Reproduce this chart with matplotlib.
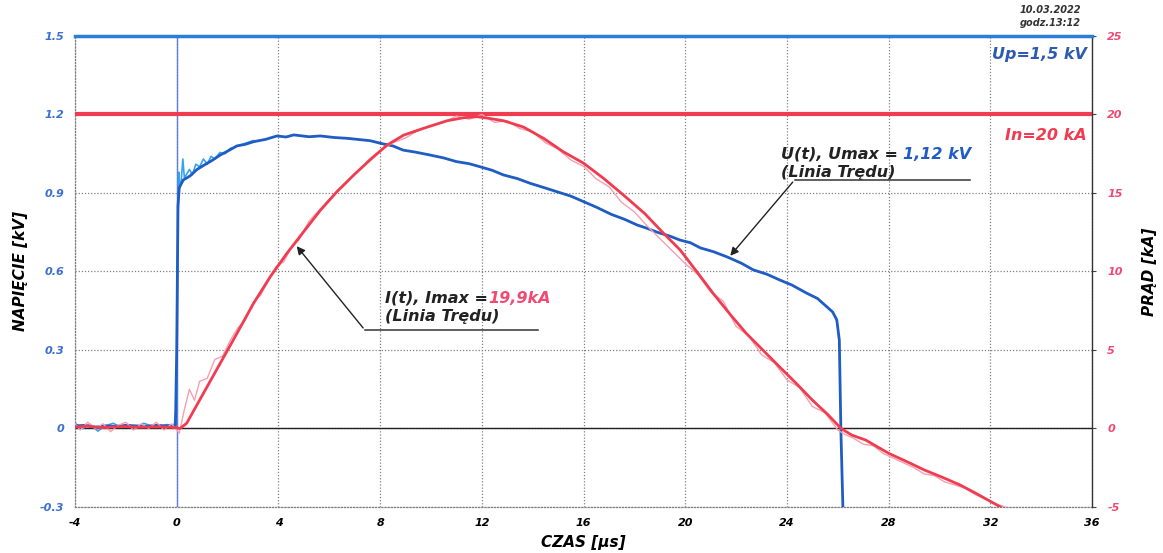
import numpy as np
import matplotlib
matplotlib.use('Agg')
import matplotlib.pyplot as plt

plt.rcParams['font.family'] = ['DejaVu Sans']

#------------------------------ dane ------------------------------
# napiecie U(t) [kV], slad glowny
t_u = [-4, -3.6, -3.2, -2.8, -2.4, -2.0, -1.6, -1.2, -0.8, -0.4, -0.05, 0.0, 0.05, 0.1,
       0.15, 0.26, 0.35, 0.52, 0.8, 1.05, 1.4, 1.71, 2.0, 2.37, 2.7, 3.02, 3.5, 3.94, 4.3,
       4.6, 5.2, 5.65, 6.2, 6.7, 7.2, 7.6, 8.1, 8.5, 8.9, 9.4, 9.97, 10.5, 11.0, 11.5,
       11.94, 12.4, 12.85, 13.4, 13.9, 14.4, 14.95, 15.5, 16.0, 16.5, 17.1, 17.6, 18.1,
       18.5, 18.9, 19.4, 19.8, 20.2, 20.6, 21.1, 21.64, 22.2, 22.68, 23.2, 23.73, 24.2,
       24.78, 25.2, 25.57, 25.8, 25.96, 26.06, 26.12, 26.2]
u = [0.01, 0.012, 0.005, 0.01, 0.008, 0.012, 0.01, 0.008, 0.012, 0.01, 0.01, 0.3, 0.85, 0.92,
     0.93, 0.95, 0.955, 0.965, 0.99, 1.005, 1.025, 1.045, 1.06, 1.08, 1.086, 1.096, 1.105,
     1.118, 1.114, 1.122, 1.115, 1.118, 1.112, 1.109, 1.104, 1.1, 1.088, 1.08, 1.064, 1.056,
     1.045, 1.034, 1.02, 1.012, 1.0, 0.987, 0.969, 0.955, 0.937, 0.922, 0.905, 0.888, 0.867,
     0.846, 0.818, 0.8, 0.778, 0.765, 0.75, 0.735, 0.72, 0.71, 0.69, 0.676, 0.656, 0.632,
     0.606, 0.59, 0.567, 0.548, 0.517, 0.497, 0.465, 0.445, 0.415, 0.338, 0.0, -0.3]

# napiecie - slad jasny (szum na poczatku)
t_c = [-4, -3.7, -3.4, -3.1, -2.8, -2.5, -2.2, -1.9, -1.6, -1.3, -1.0, -0.7, -0.4, -0.1,
       0.0, 0.04, 0.08, 0.12, 0.18, 0.24, 0.3, 0.38, 0.5, 0.62, 0.75, 0.9, 1.05, 1.2, 1.35,
       1.5, 1.7, 1.9, 2.1, 2.4, 2.7, 3.0]
c = [0.02, 0.0, 0.015, -0.01, 0.01, 0.02, 0.005, 0.015, 0.0, 0.02, 0.01, 0.005, 0.015, 0.01,
     0.1, 0.7, 0.98, 0.92, 0.95, 1.03, 0.96, 0.97, 0.99, 0.97, 1.01, 1.0, 1.03, 1.01, 1.04,
     1.03, 1.055, 1.05, 1.07, 1.08, 1.09, 1.1]

# prad I(t) [kA], slad wygladzony
t_i = [-4, -3.5, -3.0, -2.5, -2.0, -1.5, -1.0, -0.5, 0.0, 0.13, 0.39, 1.05, 1.71, 2.37, 3.02,
       3.68, 4.33, 4.99, 5.65, 6.3, 6.96, 7.6, 8.27, 8.93, 9.71, 10.63, 11.3, 11.81, 12.3,
       12.86, 13.64, 14.43, 15.2, 16.0, 16.79, 17.57, 18.4, 19.15, 19.8, 20.45, 21.1, 21.75,
       22.4, 23.05, 23.7, 24.35, 25.0, 25.6, 26.13, 26.55, 27.1, 28.0, 28.7, 29.4, 30.1,
       30.8, 31.4, 32.0, 32.4]
i = [0.1, 0.15, 0.05, 0.1, 0.12, 0.08, 0.1, 0.1, 0.05, 0.0, 0.33, 2.24, 4.15, 6.06, 7.97,
     9.67, 11.15, 12.53, 13.9, 15.08, 16.14, 17.1, 18.05, 18.69, 19.12, 19.6, 19.8, 19.86,
     19.75, 19.6, 19.2, 18.48, 17.63, 16.9, 15.93, 14.87, 13.7, 12.43, 11.37, 10.0, 8.6,
     7.3, 6.06, 5.0, 3.94, 2.9, 1.81, 0.9, 0.0, -0.42, -0.74, -1.58, -2.1, -2.64, -3.1,
     -3.59, -4.1, -4.64, -5.0]

# prad - slad surowy (rozowy)
t_p = [-4, -3.8, -3.5, -3.2, -2.9, -2.6, -2.3, -2.0, -1.7, -1.4, -1.1, -0.8, -0.5, -0.2,
       0.1, 0.3, 0.5, 0.7, 0.9, 1.2, 1.5, 1.8, 2.1, 2.4, 2.7, 3.0, 3.3, 3.6, 3.9, 4.2, 4.5,
       4.8, 5.2, 5.6, 6.0, 6.4, 6.8, 7.2, 7.6, 8.0, 8.5, 9.0, 9.5, 10.0, 10.5, 11.0, 11.5,
       12.0, 12.5, 13.0, 13.5, 14.0, 14.5, 15.0, 15.5, 16.0, 16.5, 17.0, 17.5, 18.0, 18.5,
       19.0, 19.5, 20.0, 20.5, 21.0, 21.5, 22.0, 22.5, 23.0, 23.5, 24.0, 24.5, 25.0, 25.5,
       26.0, 26.3, 26.6, 27.0, 27.4, 27.8, 28.2, 28.6, 29.0, 29.4, 29.8, 30.2, 30.6, 31.0,
       31.4, 31.8, 32.2, 32.6]
p = [0.3, -0.1, 0.4, 0.0, 0.3, -0.2, 0.2, 0.4, -0.1, 0.3, 0.0, 0.4, -0.1, 0.3,
     -0.3, 1.2, 2.5, 1.8, 3.0, 3.2, 4.4, 4.6, 5.6, 6.4, 6.9, 8.0, 8.5, 9.4, 10.3, 10.6, 11.5,
     12.0, 13.2, 13.9, 14.6, 15.3, 15.9, 16.5, 17.2, 17.7, 18.2, 18.5, 19.0, 19.3, 19.5,
     19.9, 19.7, 20.0, 19.5, 19.6, 19.1, 18.9, 18.2, 17.8, 17.1, 16.7, 15.9, 15.4, 14.4,
     13.8, 12.9, 12.1, 11.3, 10.5, 9.8, 8.7, 8.1, 6.5, 5.9, 4.7, 4.2, 3.1, 2.6, 1.4, 1.0,
     -0.1, -0.4, -0.6, -1.0, -1.1, -1.6, -1.9, -2.2, -2.5, -2.9, -3.0, -3.4, -3.6, -3.8,
     -4.2, -4.5, -4.8, -5.0]

Up = 25     # kA-os: linia 1,5 kV
In = 20     # kA

x_ticks = np.arange(-4, 37, 4)
u_ticks = [-0.3, 0, 0.3, 0.6, 0.9, 1.2, 1.5]
u_labels = ['-0.3', '0', '0.3', '0.6', '0.9', '1.2', '1.5']
i_ticks = [-5, 0, 5, 10, 15, 20, 25]

#------------------------------ kolory ------------------------------
blue = '#1f5cc4'
blue_lt = '#34a4ee'
blue_txt = '#3d6fd1'
red = '#f03c50'
pink = '#f6a0b0'
red_txt = '#f04a72'
dot = (0, (1, 1.5))

fig = plt.figure(figsize=(11.63, 5.53), dpi=100)
ax = fig.add_axes([0.0645, 0.0832, 0.8745, 0.8517])
ax2 = ax.twinx()

ax.set_xlim(-4, 36)
ax.set_ylim(-0.3, 1.5)
ax2.set_ylim(-5, 25)

ax.set_xticks(x_ticks)
ax.set_xticklabels([str(v) for v in x_ticks])
ax.set_yticks(u_ticks)
ax.set_yticklabels(u_labels)
ax2.set_yticks(i_ticks)
ax2.set_yticklabels([str(v) for v in i_ticks])

ax.grid(True, color='#808080', linestyle=dot, linewidth=0.9)
ax.tick_params(axis='x', length=0, pad=8, labelsize=8)
ax.tick_params(axis='y', length=0, pad=8, labelsize=8, labelcolor=blue_txt)
ax2.tick_params(axis='y', length=3, pad=8, labelsize=8, labelcolor=red_txt, color='#444444')
for lab in ax.get_xticklabels() + ax.get_yticklabels() + ax2.get_yticklabels():
    lab.set_fontweight('bold')
    lab.set_fontstyle('italic')

for s in ('left', 'bottom', 'top'):
    ax.spines[s].set_linestyle(dot)
    ax.spines[s].set_color('#808080')
    ax.spines[s].set_linewidth(0.9)
    ax2.spines[s].set_visible(False)
ax.spines['right'].set_visible(False)
ax2.spines['right'].set_color('#333333')
ax2.spines['right'].set_linewidth(1.0)

# osie zerowe
ax.axhline(0, color='#222222', lw=1.0, zorder=2)
ax.axvline(0, color='#5a7fe0', lw=1.0, zorder=2)

# napiecie
ax.plot(t_c, c, color=blue_lt, lw=1.2, zorder=3)
ax.plot(t_u, u, color=blue, lw=2.0, zorder=4)

# prad
ax2.axhline(Up, color='#2a7ed8', lw=2.5, zorder=3, clip_on=False)
ax2.axhline(In, color=red, lw=3.0, zorder=3)
ax2.plot(t_p, p, color=pink, lw=1.0, zorder=3)
ax2.plot(t_i, i, color=red, lw=2.0, zorder=4)

# etykiety osi
ax.set_xlabel('CZAS [\u00b5s]', fontsize=11, fontweight='bold', fontstyle='italic', labelpad=5)
ax.set_ylabel('NAPI\u0118CIE [kV]', fontsize=11, fontweight='bold', fontstyle='italic', labelpad=8)
ax2.set_ylabel('PR\u0104D [kA]', fontsize=11, fontweight='bold', fontstyle='italic',
               rotation=90, labelpad=14)

tkw = dict(fontsize=11.5, fontweight='bold', fontstyle='italic')
ax.text(35.8, 1.43, 'Up=1,5 kV', color='#2d5bb0', ha='right', va='center',
        fontsize=11.5, fontweight='bold', fontstyle='italic')
ax.text(35.8, 1.12, 'In=20 kA', color=red, ha='right', va='center',
        fontsize=11.5, fontweight='bold', fontstyle='italic')

fig.text(0.903, 0.982, '10.03.2022', ha='center', va='center', fontsize=7,
         fontweight='bold', fontstyle='italic', color='#333333')
fig.text(0.903, 0.958, 'godz.13:12', ha='center', va='center', fontsize=7,
         fontweight='bold', fontstyle='italic', color='#333333')

fig.canvas.draw()
rend = fig.canvas.get_renderer()


def two_color(x, y, s1, s2, col2):
    t1 = ax.text(x, y, s1, color='#222222', ha='left', va='baseline', **tkw)
    bb = t1.get_window_extent(renderer=rend)
    xd = ax.transData.inverted().transform((bb.x1, bb.y0))[0]
    ax.text(xd, y, s2, color=col2, ha='left', va='baseline', **tkw)


# U(t) adnotacja
two_color(23.75, 1.03, 'U(t), Umax = ', '1,12 kV', blue)
ax.text(23.75, 0.96, '(Linia Tr\u0119du)', color='#222222', ha='left', va='baseline', **tkw)
ax.plot([24.3, 31.2], [0.95, 0.95], color='#333333', lw=1.1, zorder=5)
ax.annotate('', xy=(21.7, 0.652), xytext=(24.3, 0.95),
            arrowprops=dict(arrowstyle='-|>', color='#222222', lw=1.0, mutation_scale=12))

# I(t) adnotacja
two_color(8.2, 0.48, 'I(t), Imax =', '19,9kA', red_txt)
ax.text(8.2, 0.41, '(Linia Tr\u0119du)', color='#222222', ha='left', va='baseline', **tkw)
ax.plot([7.4, 14.2], [0.376, 0.376], color='#333333', lw=1.1, zorder=5)
ax.annotate('', xy=(4.65, 0.705), xytext=(7.4, 0.376),
            arrowprops=dict(arrowstyle='-|>', color='#222222', lw=1.0, mutation_scale=12))

fig.savefig('out.png', dpi=100)
